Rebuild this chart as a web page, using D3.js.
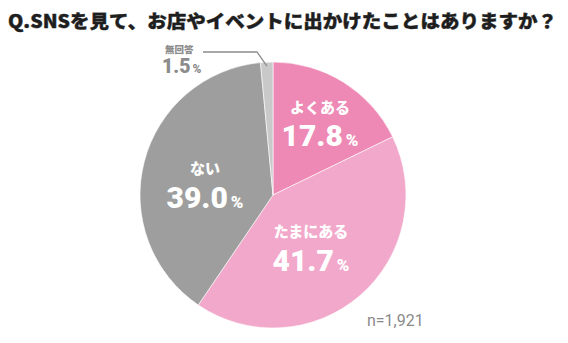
<!DOCTYPE html>
<html><head><meta charset="utf-8">
<script src="https://cdn.jsdelivr.net/npm/d3@7"></script>
<style>body{margin:0;background:#fff}svg{display:block}</style>
</head><body>
<svg id="c" width="568" height="343"></svg>
<script>
const title = "Q.SNSを見て、お店やイベントに出かけたことはありますか？";
const categories = ["よくある", "たまにある", "ない", "無回答"];
const values = [17.8, 41.7, 39.0, 1.5];
const colors = ["#EE88B4", "#F2A8CA", "#9D9E9D", "#C9C9C9"];
const sampleNote = "n=1,921";

const svg = d3.select("#c");
const cx = 273, cy = 195, r = 133;
const jp = "'Noto Sans CJK JP', sans-serif";
const num = "Roboto, 'Noto Sans', sans-serif";

svg.append("text").attr("x", 8).attr("y", 28)
  .attr("font-family", jp).attr("font-weight", 900).attr("font-size", 18.5)
  .attr("fill", "#1e1e1e").attr("stroke", "#1e1e1e").attr("stroke-width", 0.4)
  .attr("textLength", 549).attr("lengthAdjust", "spacingAndGlyphs")
  .text(title);

const pie = d3.pie().sort(null).value(d => d)(values);
const arc = d3.arc().innerRadius(0).outerRadius(r);
const g = svg.append("g").attr("transform", `translate(${cx},${cy})`);
g.selectAll("path").data(pie).join("path")
  .attr("d", arc).attr("fill", (d, i) => colors[i])
  .attr("stroke", "#fff").attr("stroke-width", 0.6);

// labels inside
const labelPos = [
  {x: 320, y: 113, ny: 146},
  {x: 311, y: 237, ny: 271},
  {x: 205, y: 174, ny: 208},
];
labelPos.forEach((p, i) => {
  svg.append("text").attr("x", p.x).attr("y", p.y).attr("text-anchor", "middle")
    .attr("font-family", jp).attr("font-weight", 900).attr("font-size", 15)
    .attr("fill", "#fff").text(categories[i]);
  const t = svg.append("text").attr("x", p.x).attr("y", p.ny).attr("text-anchor", "middle")
    .attr("font-family", num).attr("font-weight", 900).attr("fill", "#fff");
  t.append("tspan").attr("font-size", 30).text(values[i].toFixed(1));
  t.append("tspan").attr("font-size", 17).attr("dx", 3).text("%");
});

// no answer label with leader
svg.append("text").attr("x", 165).attr("y", 53)
  .attr("font-family", jp).attr("font-weight", 900).attr("font-size", 9.5)
  .attr("fill", "#8C8C8C").text(categories[3]);
const t3 = svg.append("text").attr("x", 162).attr("y", 73)
  .attr("font-family", num).attr("font-weight", 900).attr("fill", "#8C8C8C");
t3.append("tspan").attr("font-size", 19.5).text(values[3].toFixed(1));
t3.append("tspan").attr("font-size", 12).attr("dx", 2).text("%");
const mid = (pie[3].startAngle + pie[3].endAngle) / 2;
const ex = cx + Math.sin(mid) * (r - 4), ey = cy - Math.cos(mid) * (r - 4);
svg.append("polyline")
  .attr("points", `203,52 257,52 ${ex},${ey}`)
  .attr("fill", "none").attr("stroke", "#8C8C8C").attr("stroke-width", 1.3);

svg.append("text").attr("x", 367).attr("y", 326)
  .attr("font-family", "Roboto, sans-serif").attr("font-size", 16)
  .attr("fill", "#8A8A8A").text(sampleNote);
</script>
</body></html>
